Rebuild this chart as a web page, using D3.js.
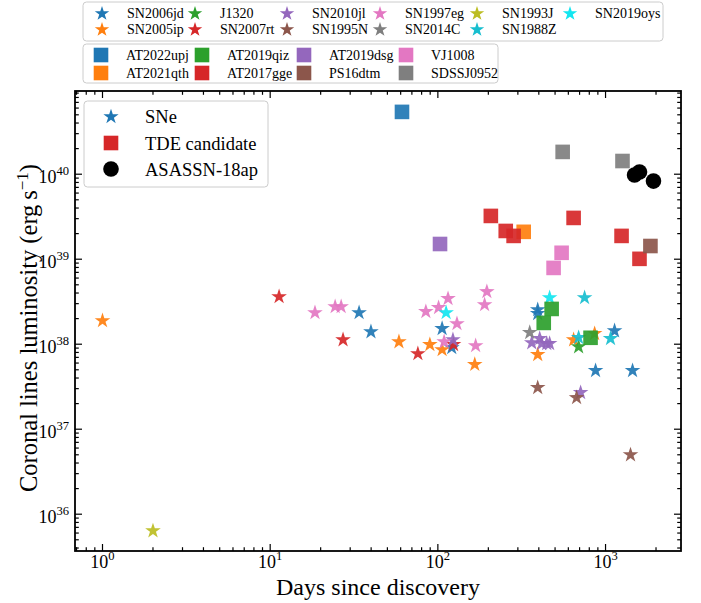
<!DOCTYPE html>
<html><head><meta charset="utf-8">
<script src="https://cdn.jsdelivr.net/npm/d3@7"></script>
<style>body{margin:0;background:#fff} text{font-family:"Liberation Serif","Times New Roman",serif;fill:#000}</style>
</head><body><svg id="c" width="701" height="603"></svg>
<script>
// ---------- data: [days since discovery, luminosity erg/s] ----------
const SN2006jd = [[33.9,2.40e38],[39.9,1.43e38],[106,1.56e38],[121,9.3e37],[394,2.60e38],[394,2.34e38],[1132,1.47e38],[872,4.99e37],[1449,4.99e37]];
const SN2005ip = [[1,1.93e38],[58.6,1.09e38],[89.6,1.01e38],[106,8.8e37],[166,5.9e37],[394,7.7e37],[645,1.15e38],[861,1.36e38]];
const J1320    = [[691,9.5e37]];
const SN2007rt = [[11.3,3.70e38],[27.2,1.15e38],[76.0,7.9e37],[124,1.01e38]];
const SN2010jl = [[123,1.15e38],[363,1.06e38],[405,1.19e38],[446,1.04e38],[464,1.04e38],[416,1.04e38],[710,2.75e37]];
const SN1995N  = [[394,3.15e37],[672,2.40e37],[1409,5.1e36]];
const SN1997eg = [[18.5,2.40e38],[24.4,2.82e38],[26.5,2.82e38],[84.8,2.47e38],[101,2.75e38],[115,3.51e38],[130,1.78e38],[109,1.09e38],[196,4.24e38],[190,2.98e38],[168,9.8e37]];
const SN2014C  = [[353,1.40e38]];
const SN1993J  = [[2,6.5e35]];
const SN1988Z  = [[691,1.22e38],[1071,1.19e38],[750,3.60e38]];
const SN2019oys= [[112,2.40e38],[464,3.60e38]];

const AT2022upj = [[61.1,5.41e40]];
const AT2021qth = [[325,2.10e39]];
const AT2019qiz = [[477,2.60e38],[428,1.78e38],[814,1.19e38]];
const AT2017gge = [[207,3.23e39],[254,2.15e39],[283,1.88e39],[645,3.06e39],[1246,1.88e39],[1594,1.01e39]];
const AT2019dsg = [[103,1.51e39]];
const PS16dtm   = [[1852,1.43e39]];
const VJ1008    = [[547,1.19e39],[490,7.9e38]];
const SDSSJ0952 = [[555,1.83e40],[1262,1.43e40]];
const ASASSN18ap = [[1489,9.8e39],[1594,1.06e40],[1931,8.3e39]];

const sneNames  = ["SN2006jd","SN2005ip","J1320","SN2007rt","SN2010jl","SN1995N","SN1997eg","SN2014C","SN1993J","SN1988Z","SN2019oys"];
const sneColors = ["#1f77b4","#ff7f0e","#2ca02c","#d62728","#9467bd","#8c564b","#e377c2","#7f7f7f","#bcbd22","#17becf","#12e6f0"];
const snePoints = [SN2006jd,SN2005ip,J1320,SN2007rt,SN2010jl,SN1995N,SN1997eg,SN2014C,SN1993J,SN1988Z,SN2019oys];
const tdeNames  = ["AT2022upj","AT2021qth","AT2019qiz","AT2017gge","AT2019dsg","PS16dtm","VJ1008","SDSSJ0952"];
const tdeColors = ["#1f77b4","#ff7f0e","#2ca02c","#d62728","#9467bd","#8c564b","#e377c2","#7f7f7f"];
const tdePoints = [AT2022upj,AT2021qth,AT2019qiz,AT2017gge,AT2019dsg,PS16dtm,VJ1008,SDSSJ0952];
const xTickExps = [0,1,2,3];
const yTickExps = [36,37,38,39,40];
const typeLabels = ["SNe","TDE candidate","ASASSN-18ap"];

// ---------- layout ----------
const svg = d3.select("#c");
const L=75, R=681, T=91, B=551;
const x = d3.scaleLog().domain([Math.pow(10,-0.164), Math.pow(10,3.45)]).range([L,R]);
const y = d3.scaleLog().domain([Math.pow(10,35.567), Math.pow(10,40.979)]).range([B,T]);

function starPath(Rr){
  const pts=[];
  for(let i=0;i<10;i++){
    const a=-Math.PI/2+i*Math.PI/5, r=(i%2===0)?Rr:Rr*0.382;
    pts.push([r*Math.cos(a), r*Math.sin(a)+Rr*0.095]);
  }
  return "M"+pts.map(p=>p[0].toFixed(2)+","+p[1].toFixed(2)).join("L")+"Z";
}
const STAR = starPath(8.2), SQ = 7.3, CR = 7.8;

// data marks
const gData = svg.append("g");
snePoints.forEach((pts,i)=>{
  gData.selectAll(null).data(pts).enter().append("path")
    .attr("d",STAR).attr("transform",d=>`translate(${x(d[0])},${y(d[1])})`)
    .attr("fill",sneColors[i]).attr("fill-opacity",0.92);
});
tdePoints.forEach((pts,i)=>{
  gData.selectAll(null).data(pts).enter().append("rect")
    .attr("x",d=>x(d[0])-SQ).attr("y",d=>y(d[1])-SQ).attr("width",2*SQ).attr("height",2*SQ)
    .attr("fill",tdeColors[i]).attr("fill-opacity",0.92);
});
gData.selectAll(null).data(ASASSN18ap).enter().append("circle")
  .attr("cx",d=>x(d[0])).attr("cy",d=>y(d[1])).attr("r",CR).attr("fill","#000");

// ticks (inside, all four sides)
const gAx = svg.append("g").attr("stroke","#000").attr("stroke-width",1.2);
function minorTicks(scale, e0, e1){
  const out=[]; const [d0,d1]=scale.domain();
  for(let e=e0;e<=e1;e++) for(let k=2;k<=9;k++){const v=k*Math.pow(10,e); if(v>d0&&v<d1) out.push(v);}
  return out;
}
const xMaj = xTickExps.map(e=>Math.pow(10,e)), yMaj = yTickExps.map(e=>Math.pow(10,e));
const xMin = minorTicks(x,-1,3), yMin = minorTicks(y,35,40);
const MJ=7, MN=3.8;
[[xMaj,MJ],[xMin,MN]].forEach(([vals,len])=>vals.forEach(v=>{
  const px=x(v);
  gAx.append("line").attr("x1",px).attr("x2",px).attr("y1",B).attr("y2",B-len);
  gAx.append("line").attr("x1",px).attr("x2",px).attr("y1",T).attr("y2",T+len);
}));
[[yMaj,MJ],[yMin,MN]].forEach(([vals,len])=>vals.forEach(v=>{
  const py=y(v);
  gAx.append("line").attr("y1",py).attr("y2",py).attr("x1",L).attr("x2",L+len);
  gAx.append("line").attr("y1",py).attr("y2",py).attr("x1",R).attr("x2",R-len);
}));
svg.append("rect").attr("x",L).attr("y",T).attr("width",R-L).attr("height",B-T)
  .attr("fill","none").attr("stroke","#000").attr("stroke-width",1.8);

// tick labels
xTickExps.forEach(e=>{
  const t=svg.append("text").attr("x",x(Math.pow(10,e))).attr("y",568).attr("text-anchor","middle").attr("font-size",18);
  t.append("tspan").text("10");
  t.append("tspan").attr("dy",-8).attr("font-size",12.6).text(e);
});
yTickExps.forEach(e=>{
  const t=svg.append("text").attr("x",69).attr("y",y(Math.pow(10,e))+9).attr("text-anchor","end").attr("font-size",18);
  t.append("tspan").text("10");
  t.append("tspan").attr("dy",-8).attr("font-size",12.6).text(e);
});

// axis titles
svg.append("text").attr("x",(L+R)/2).attr("y",595).attr("text-anchor","middle").attr("font-size",24).text("Days since discovery");
const yt = svg.append("text").attr("transform",`translate(37,328) rotate(-90)`).attr("text-anchor","middle").attr("font-size",24.5);
yt.append("tspan").text("Coronal lines luminosity (erg\u2009s");
yt.append("tspan").attr("dy",-9).attr("font-size",17).text("\u22121");
yt.append("tspan").attr("dy",9).text(")");

// ---------- legends ----------
function box(x0,y0,w,h){
  svg.append("rect").attr("x",x0).attr("y",y0).attr("width",w).attr("height",h).attr("rx",3.5)
    .attr("fill","#fff").attr("fill-opacity",0.8).attr("stroke","#cccccc").attr("stroke-width",1);
}
// SNe legend
box(83,2,580,39);
const snColX = [102,195,287,380,477,570], snRowY=[13,29];
const LSTAR = starPath(7.6);
sneNames.forEach((n,i)=>{
  const c=Math.floor(i/2), r=i%2, cx=snColX[c], cy=snRowY[r];
  svg.append("path").attr("d",LSTAR).attr("transform",`translate(${cx},${cy})`).attr("fill",sneColors[i]);
  svg.append("text").attr("x",cx+25).attr("y",cy+5).attr("font-size",14).text(n);
});
// TDE legend
box(83,44,415,39);
const tdColX=[101,202,304,406], tdRowY=[55,73];
tdeNames.forEach((n,i)=>{
  const c=Math.floor(i/2), r=i%2, cx=tdColX[c], cy=tdRowY[r];
  svg.append("rect").attr("x",cx-7.3).attr("y",cy-7.3).attr("width",14.6).attr("height",14.6).attr("fill",tdeColors[i]);
  svg.append("text").attr("x",cx+25).attr("y",cy+5).attr("font-size",14).text(n);
});
// type legend
box(84,101,184,86);
const tyY=[116,143,169];
svg.append("path").attr("d",starPath(8)).attr("transform",`translate(111,${tyY[0]})`).attr("fill","#1f77b4");
svg.append("rect").attr("x",111-7.3).attr("y",tyY[1]-7.3).attr("width",14.6).attr("height",14.6).attr("fill","#d62728");
svg.append("circle").attr("cx",111).attr("cy",tyY[2]).attr("r",7.8).attr("fill","#000");
typeLabels.forEach((t,i)=>svg.append("text").attr("x",145).attr("y",tyY[i]+6.5).attr("font-size",18.5).text(t));
</script></body></html>
